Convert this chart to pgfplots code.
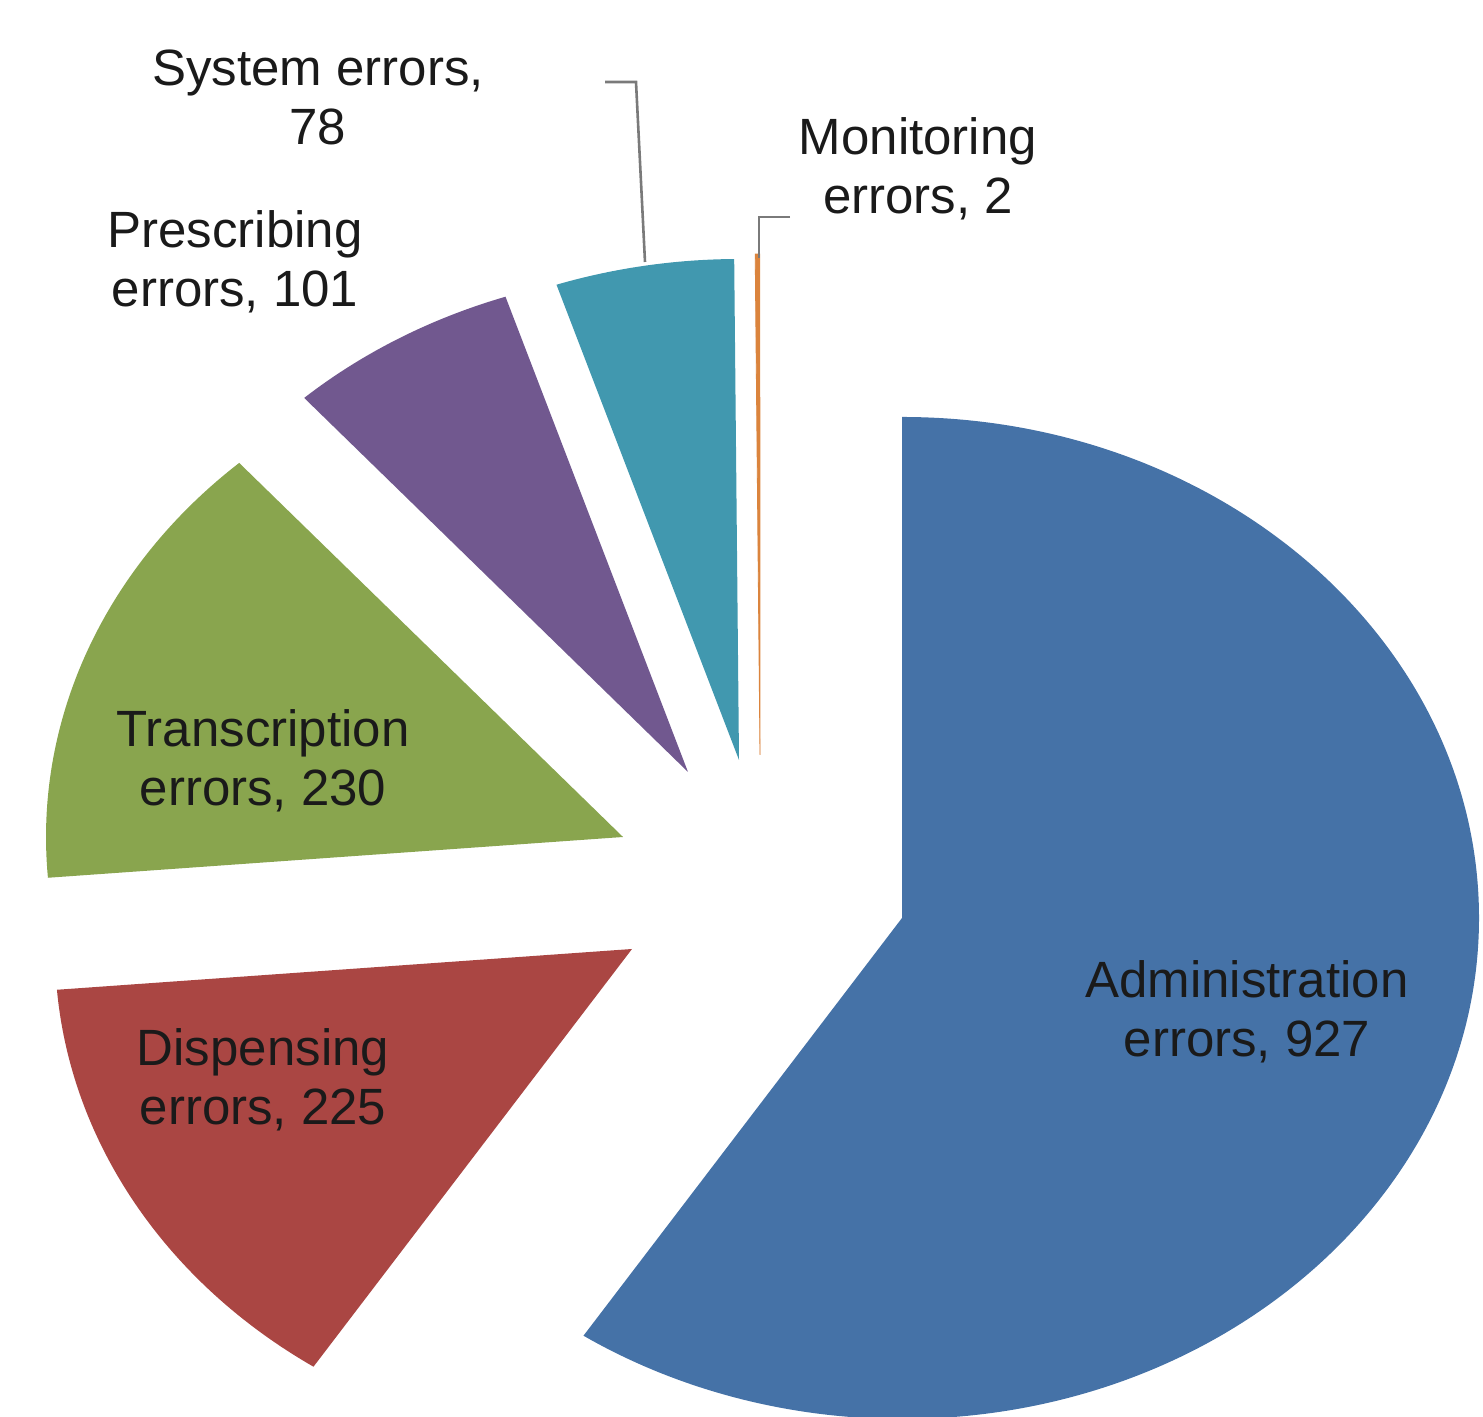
\documentclass[border=0pt]{standalone}
\usepackage{pgfplots}
\pgfplotsset{compat=1.18}
\usepackage{fontspec}
\setmainfont{Liberation Sans}
\definecolor{cAdm}{HTML}{4572A7}
\definecolor{cDis}{HTML}{AA4643}
\definecolor{cTra}{HTML}{89A54E}
\definecolor{cPre}{HTML}{71588F}
\definecolor{cSys}{HTML}{4198AF}
\definecolor{cMon}{HTML}{DB843D}
\definecolor{labc}{HTML}{1A1A1A}
\definecolor{leadc}{HTML}{7A7A7A}
% counts
\pgfmathsetmacro\vAdm{927}
\pgfmathsetmacro\vDis{225}
\pgfmathsetmacro\vTra{230}
\pgfmathsetmacro\vPre{101}
\pgfmathsetmacro\vSys{78}
\pgfmathsetmacro\vMon{2}
\pgfmathsetmacro\tot{\vAdm+\vDis+\vTra+\vPre+\vSys+\vMon}
\pgfmathsetmacro\aA{90}
\pgfmathsetmacro\aB{\aA-\vAdm/\tot*360}
\pgfmathsetmacro\aC{\aB-\vDis/\tot*360}
\pgfmathsetmacro\aD{\aC-\vTra/\tot*360}
\pgfmathsetmacro\aE{\aD-\vPre/\tot*360}
\pgfmathsetmacro\aF{\aE-\vSys/\tot*360}
\pgfmathsetmacro\aG{\aF-\vMon/\tot*360}
% slice: colour, apex x, apex y, start angle, end angle
\newcommand\slice[5]{%
  \fill[#1] (axis cs:#2,#3) -- ++({#4}:{288.5pt} and {250.5pt})
    arc[start angle=#4, end angle=#5, x radius=288.5pt, y radius=250.5pt] -- cycle;}
\begin{document}
\begin{tikzpicture}
\begin{axis}[
  scale only axis, width=741.5pt, height=708.5pt,
  xmin=0, xmax=1483, ymin=-1417, ymax=0,
  hide axis, clip=false]
\addplot[draw=none] coordinates {(0,0)};
\slice{cAdm}{902}{-918}{\aA}{\aB}
\slice{cDis}{632}{-949}{\aB}{\aC}
\slice{cTra}{623}{-837}{\aC}{\aD}
\slice{cPre}{688}{-772}{\aD}{\aE}
\slice{cSys}{739}{-760}{\aE}{\aF}
\fill[cMon, draw=cMon, line width=0.4pt] (axis cs:760,-755) -- ++({\aF}:{288.5pt} and {250.5pt})
    arc[start angle=\aF, end angle=\aG, x radius=288.5pt, y radius=250.5pt] -- cycle;
% leader lines
\draw[leadc, line width=1.3pt] (axis cs:605,-82) -- (axis cs:636,-82) -- (axis cs:645,-262);
\draw[leadc, line width=1.3pt] (axis cs:790,-217) -- (axis cs:759,-217) -- (axis cs:759,-258);
% labels
\tikzset{lab/.style={font=\fontsize{25.5}{29.5}\selectfont, align=center, text=labc, inner sep=0pt}}
\node[lab] at (axis cs:318,-97) {System errors,\\78};
\node[lab] at (axis cs:235,-262) {Prescribing\\errors, 101};
\node[lab] at (axis cs:918,-169) {Monitoring\\errors, 2};
\node[lab] at (axis cs:263,-761) {Transcription\\errors, 230};
\node[lab] at (axis cs:263,-1080) {Dispensing\\errors, 225};
\node[lab] at (axis cs:1247,-1012) {Administration\\errors, 927};
\end{axis}
\pgfresetboundingbox
\path (current axis.south west) rectangle (current axis.north east);
\end{tikzpicture}
\end{document}
